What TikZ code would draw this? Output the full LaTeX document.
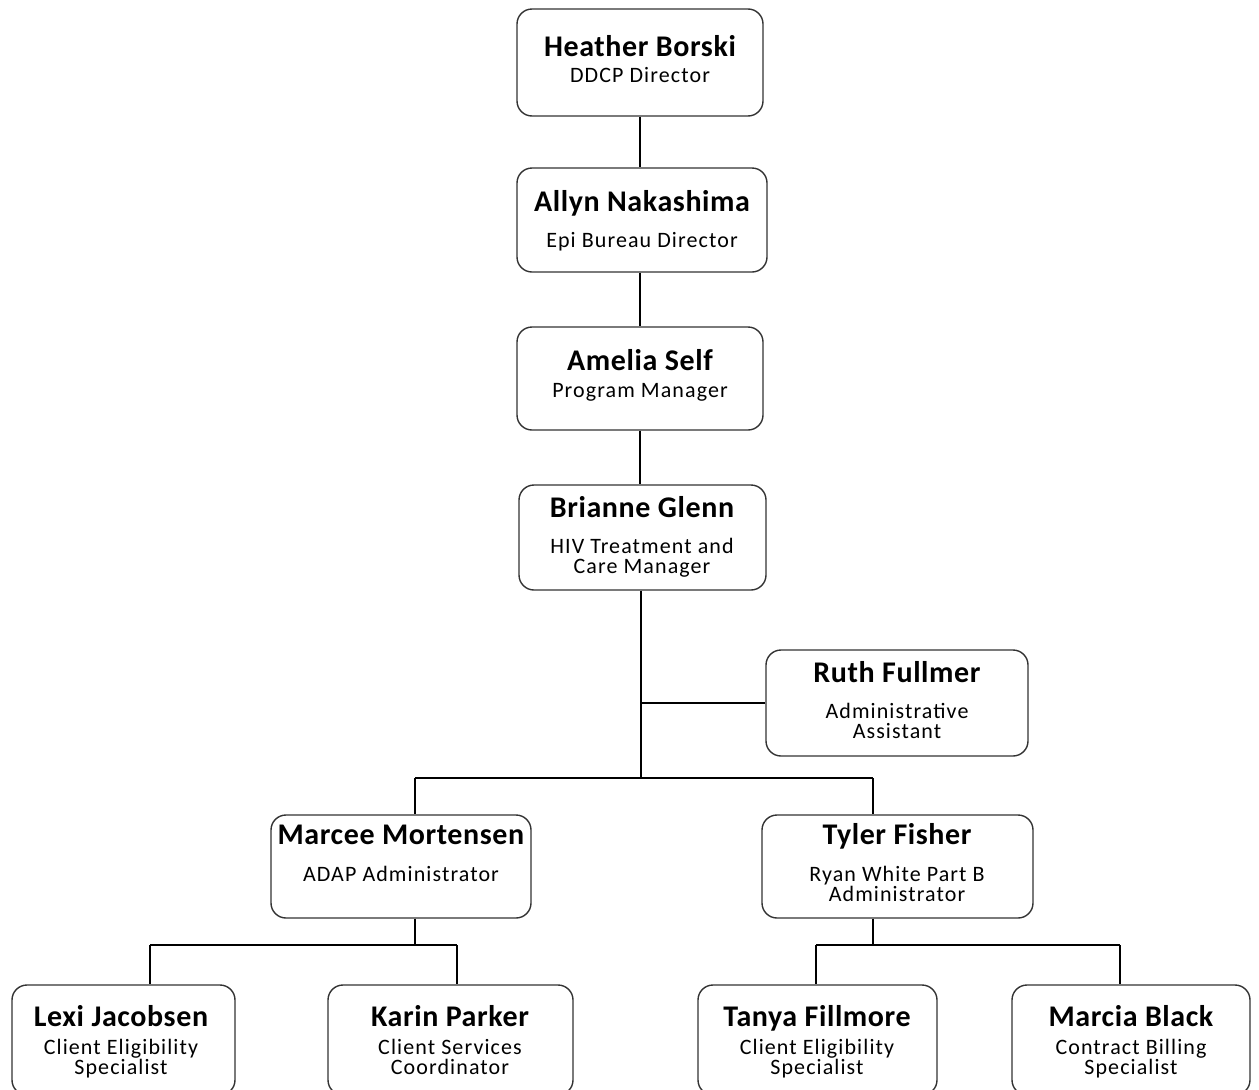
\documentclass[tikz,border=0pt]{standalone}
\usepackage{fontspec}
\setmainfont{Carlito}
\newfontfamily\namefam[LetterSpace=2]{Carlito}
\newfontfamily\rolefam[LetterSpace=5]{Carlito}
\newcommand{\namef}{\namefam\fontsize{30}{30}\selectfont\bfseries}
\newcommand{\subf}{\rolefam\fontsize{22}{20}\selectfont}
\begin{document}
\begin{tikzpicture}[x=1pt,y=-1pt,
  box/.style={draw=black!80, line width=1.4pt, rounded corners=15pt, fill=white,
    inner sep=0pt},
  nametext/.style={anchor=base, inner sep=0pt, font=\namef},
  roletext/.style={anchor=base, inner sep=0pt, font=\subf},
  link/.style={draw=black, line width=1.3pt}]
\useasboundingbox (0,0) rectangle (1259,1090);
\clip (0,0) rectangle (1259,1090);
\fill[white] (0,0) rectangle (1259,1090);
% boxes
\node[box, minimum width=246pt, minimum height=107pt] (heather) at (640,62.5) {};
\node[box, minimum width=250pt, minimum height=104pt] (allyn) at (642,220) {};
\node[box, minimum width=246pt, minimum height=103pt] (amelia) at (640,378.5) {};
\node[box, minimum width=247pt, minimum height=105pt] (brianne) at (642.5,537.5) {};
\node[box, minimum width=262pt, minimum height=106pt] (ruth) at (897,703) {};
\node[box, minimum width=260pt, minimum height=103pt] (marcee) at (401,866.5) {};
\node[box, minimum width=271pt, minimum height=103pt] (tyler) at (897.5,866.5) {};
\node[box, minimum width=223pt, minimum height=110pt] (lexi) at (123.5,1040) {};
\node[box, minimum width=245pt, minimum height=110pt] (karin) at (450.5,1040) {};
\node[box, minimum width=239pt, minimum height=110pt] (tanya) at (817.5,1040) {};
\node[box, minimum width=238pt, minimum height=110pt] (marcia) at (1131,1040) {};
% texts
\node[nametext] (heather-n) at (640,56.5) {Heather Borski};
\node[roletext] (heather-r) at (640,82) {DDCP Director};
\node[nametext] (allyn-n) at (642,211.5) {Allyn Nakashima};
\node[roletext] (allyn-r) at (642,247) {Epi Bureau Director};
\node[nametext] (amelia-n) at (640,370.5) {Amelia Self};
\node[roletext] (amelia-r) at (640,397) {Program Manager};
\node[nametext] (brianne-n) at (642,517.5) {Brianne Glenn};
\node[roletext] (brianne-r1) at (642,553) {HIV Treatment and};
\node[roletext] (brianne-r2) at (642,573) {Care Manager};
\node[nametext] (ruth-n) at (897,682.5) {Ruth Fullmer};
\node[roletext] (ruth-r1) at (897,718) {Administrative};
\node[roletext] (ruth-r2) at (897,738) {Assistant};
\node[nametext] (marcee-n) at (401,844.5) {Marcee Mortensen};
\node[roletext] (marcee-r) at (401,881) {ADAP Administrator};
\node[nametext] (tyler-n) at (897,844.5) {Tyler Fisher};
\node[roletext] (tyler-r1) at (897,881) {Ryan White Part B};
\node[roletext] (tyler-r2) at (897,901) {Administrator};
\node[nametext] (lexi-n) at (121,1026.5) {Lexi Jacobsen};
\node[roletext] (lexi-r1) at (121,1054) {Client Eligibility};
\node[roletext] (lexi-r2) at (121,1074) {Specialist};
\node[nametext] (karin-n) at (450,1026.5) {Karin Parker};
\node[roletext] (karin-r1) at (450,1054) {Client Services};
\node[roletext] (karin-r2) at (450,1074) {Coordinator};
\node[nametext] (tanya-n) at (817,1026.5) {Tanya Fillmore};
\node[roletext] (tanya-r1) at (817,1054) {Client Eligibility};
\node[roletext] (tanya-r2) at (817,1074) {Specialist};
\node[nametext] (marcia-n) at (1131,1026.5) {Marcia Black};
\node[roletext] (marcia-r1) at (1131,1054) {Contract Billing};
\node[roletext] (marcia-r2) at (1131,1074) {Specialist};
% junction coordinates
\coordinate (j1) at (641,778);
\coordinate (bl) at (415,778);
\coordinate (br) at (873,778);
\coordinate (mj) at (415,945);
\coordinate (ml) at (150,945);
\coordinate (mr) at (457,945);
\coordinate (tj) at (873,945);
\coordinate (tl) at (816,945);
\coordinate (tr) at (1120,945);
% connectors
\draw[link] (heather.south) -- (heather.south |- allyn.north);
\draw[link] (allyn.south -| amelia.north) -- (amelia.north);
\draw[link] (amelia.south) -- (amelia.south |- brianne.north);
\draw[link] (j1 |- brianne.south) -- (j1);
\draw[link] (ruth.west) -- (ruth.west -| j1);
\draw[link] (bl) -- (br);
\draw[link] (bl) -- (bl |- marcee.north);
\draw[link] (br) -- (br |- tyler.north);
\draw[link] (mj |- marcee.south) -- (mj);
\draw[link] (ml) -- (mr);
\draw[link] (ml) -- (ml |- lexi.north);
\draw[link] (mr) -- (mr |- karin.north);
\draw[link] (tj |- tyler.south) -- (tj);
\draw[link] (tl) -- (tr);
\draw[link] (tl) -- (tl |- tanya.north);
\draw[link] (tr) -- (tr |- marcia.north);
\end{tikzpicture}
\end{document}
